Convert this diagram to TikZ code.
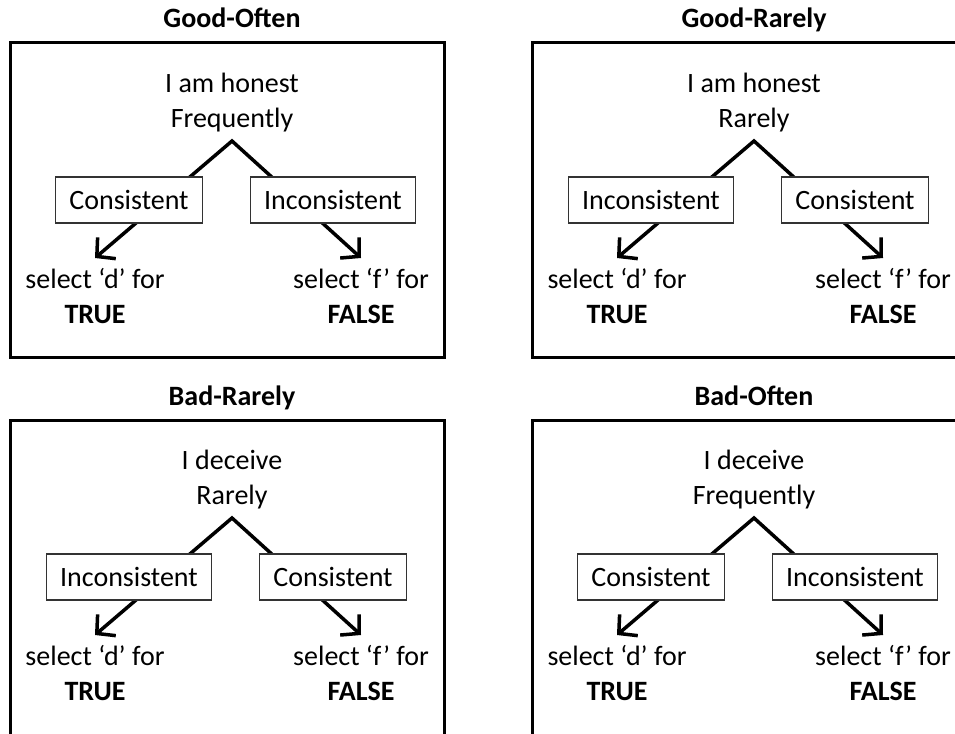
\documentclass[tikz,border=0pt]{standalone}
\usepackage{fontspec}
\setmainfont{Carlito}
\usetikzlibrary{arrows.meta}

% One quadrant: #1,#2 shift; #3 title; #4,#5 statement lines;
% #6 left box; #7 right box; #8 name prefix; #9 lower edge of the frame
\newcommand\decisionpanel[9]{%
  \begin{scope}[shift={(#1,#2)}]
    \draw[frame] (10,43) rectangle (444,#9);
    \node[title] (#8title) at (232,28) {#3};
    \node[stmt] (#8stmt) at (232,103) {#4\\#5};
    \coordinate (#8apex) at (232,141);
    \coordinate (#8tipL) at (95,258);
    \coordinate (#8tipR) at (361,258);
    \draw[branch] (#8tipL) -- (#8apex) -- (#8tipR);
    \node[choice] (#8boxL) at (129,200) {#6};
    \node[choice] (#8boxR) at (333,200) {#7};
    \node[stmt] (#8selL) at (95,296) {select ‘d’ for\\\textbf{TRUE}};
    \node[stmt] (#8selR) at (361,296) {select ‘f’ for\\\textbf{FALSE}};
  \end{scope}}

\begin{document}
\begin{tikzpicture}[x=1pt,y=-1pt,
  frame/.style={draw, line width=3pt},
  title/.style={font=\fontsize{28}{35}\selectfont\bfseries, anchor=base, inner sep=0pt},
  stmt/.style={font=\fontsize{28}{35}\selectfont, align=center, inner sep=0pt},
  choice/.style={draw=black!80, line width=1.2pt, fill=white,
    font=\fontsize{28}{35}\selectfont, minimum height=46pt,
    inner xsep=13.5pt, inner ysep=0pt},
  barb/.tip={Straight Barb[length=13pt,width=28pt,line width=3.5pt]},
  branch/.style={line width=3.5pt, line join=miter, barb-barb}
]
\clip (0,0) rectangle (955,733);
\fill[white] (0,0) rectangle (955,733);

\decisionpanel{0}{0}{Good-Often}{I am honest}{Frequently}{Consistent}{Inconsistent}{go}{357}
\decisionpanel{522}{0}{Good-Rarely}{I am honest}{Rarely}{Inconsistent}{Consistent}{gr}{357}
\decisionpanel{0}{377}{Bad-Rarely}{I deceive}{Rarely}{Inconsistent}{Consistent}{br}{370}
\decisionpanel{522}{377}{Bad-Often}{I deceive}{Frequently}{Consistent}{Inconsistent}{bo}{370}
\end{tikzpicture}
\end{document}
